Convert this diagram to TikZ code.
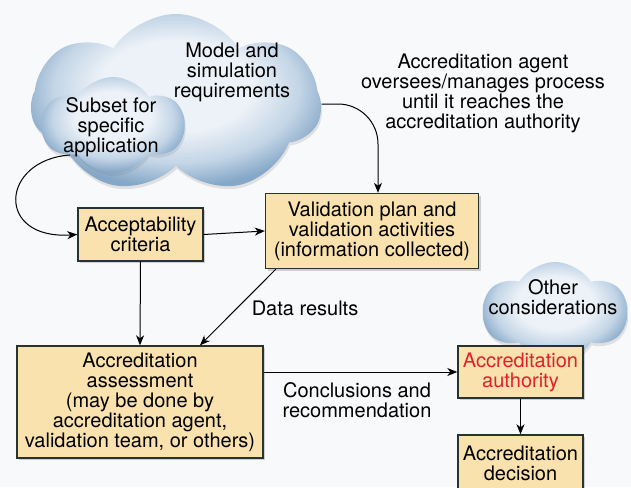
\documentclass[tikz,border=0pt]{standalone}
\usepackage{fontspec}
\setmainfont{TeX Gyre Heros}
\usetikzlibrary{shapes.symbols, shadows, arrows.meta}
\definecolor{paper}{HTML}{F8F9FB}
\definecolor{boxfill}{HTML}{F9E2AE}
\definecolor{boxline}{HTML}{26332F}
\definecolor{cloudin}{HTML}{EDF2F8}
\definecolor{cloudmid}{HTML}{C3D5E6}
\definecolor{cloudout}{HTML}{86A8C8}
\definecolor{authred}{HTML}{E0202A}
\pgfdeclareradialshading{cloudy}{\pgfpoint{0bp}{6bp}}{color(0bp)=(cloudin); color(13bp)=(cloudin); color(21bp)=(cloudmid); color(27bp)=(cloudout); color(50bp)=(cloudout)}
\tikzstyle{box} = [draw=boxline, fill=boxfill, line width=1.4pt, align=center, inner sep=0mm, drop shadow={shadow xshift=2pt, shadow yshift=-2pt, opacity=.35}]
\tikzstyle{puff} = [cloud, cloud ignores aspect, cloud puff arc=115, shading=cloudy, inner sep=0mm, drop shadow={shadow xshift=1pt, shadow yshift=-3pt, opacity=.2}]
\tikzstyle{txt} = [align=center, inner sep=0mm]
\tikzstyle{l} = [->, line width=1pt, draw=black]

\begin{document}
\begin{tikzpicture}[x=1pt, y=-1pt, font=\fontsize{20}{20}\selectfont, >={Stealth[length=10pt, width=8pt, inset=3pt]}]
    \fill[paper] (0,0) rectangle (631,487);
    \useasboundingbox (0,0) rectangle (631,487);

    % clouds
    \node[puff, cloud puffs=7, minimum width=290pt, minimum height=180pt] (ms) at (176,104) {};
    \node[puff, cloud puffs=6, minimum width=142pt, minimum height=96pt] (sub) at (113,125) {};
    \node[puff, cloud puffs=6, minimum width=144pt, minimum height=100pt] (oth) at (555,312) {};
    \node[txt] (mstxt) at (232,72) {Model and\\simulation\\requirements};
    \node[txt] (subtxt) at (111,127) {Subset for\\specific\\application};
    \node[txt] (othtxt) at (553,297) {Other\\considerations};

    % boxes
    \node[box, minimum width=125pt, minimum height=53pt] (crit) at (140.5,234.5) {Acceptability\\criteria};
    \node[box, minimum width=213pt, minimum height=75pt] (valid) at (372,231) {Validation plan and\\validation activities\\(information collected)};
    \node[box, minimum width=246pt, minimum height=112pt] (assess) at (140,402) {Accreditation\\assessment\\(may be done by\\accreditation agent,\\validation team, or others)};
    \node[box, minimum width=125pt, minimum height=52pt, text=authred] (auth) at (520.5,372) {Accreditation\\authority};
    \node[box, minimum width=125pt, minimum height=56pt] (decide) at (520.5,463) {Accreditation\\decision};

    % labels
    \node[txt] (agent) at (483,93) {Accreditation agent\\oversees/manages process\\until it reaches the\\accreditation authority};
    \node[txt] (data) at (305,308) {Data results};
    \node[txt] (concl) at (357,400) {Conclusions and\\recommendation};

    % connectors
    \foreach \f/\t in {crit.east/valid.west, crit.south/assess.north, auth.south/decide.north, auth.west -| assess.east/auth.west}
    \draw[l] (\f) -- (\t);
    \draw[l] (sub.215) .. controls (0,160) and (-5,240) .. (crit.west);
    \draw[l, rounded corners=40pt] (ms.east) -| ([xshift=6pt]valid.north);
    \draw[l] ([xshift=11pt]valid.south west) -- ([xshift=60pt]assess.north);
\end{tikzpicture}
\end{document}
